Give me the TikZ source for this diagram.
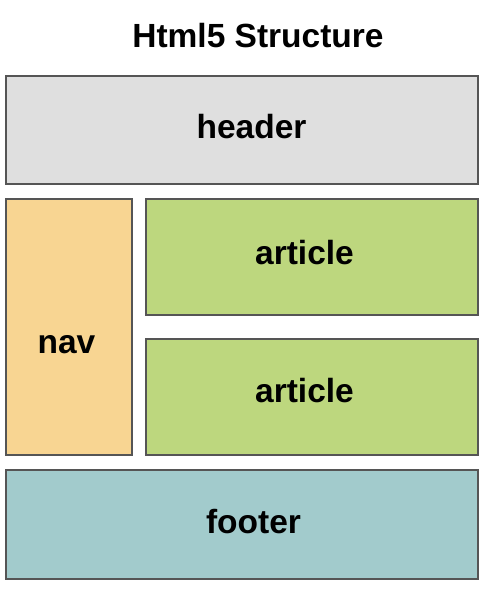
\documentclass[tikz,border=0pt]{standalone}
\usepackage{fontspec}
\setmainfont{Liberation Sans}
\definecolor{hdr}{HTML}{DFDFDF}
\definecolor{navc}{HTML}{F8D592}
\definecolor{artc}{HTML}{BDD77E}
\definecolor{ftc}{HTML}{A2CBCC}
\definecolor{edge}{HTML}{555555}
\begin{document}
\begin{tikzpicture}[x=1pt,y=-1pt,
  box/.style={draw=edge, line width=1.6pt, inner sep=0pt},
  lbl/.style={inner sep=0pt, anchor=base, font=\fontsize{33.5}{36}\selectfont\bfseries}]
\useasboundingbox (0,0) rectangle (490,600);
\node[box, fill=hdr, minimum width=472pt, minimum height=108pt] (header) at (242,130) {};
\node[box, fill=navc, minimum width=126pt, minimum height=256pt] (nav) at (69,327) {};
\node[box, fill=artc, minimum width=332pt, minimum height=116pt] (art1) at (312,257) {};
\node[box, fill=artc, minimum width=332pt, minimum height=116pt] (art2) at (312,397) {};
\node[box, fill=ftc, minimum width=472pt, minimum height=109pt] (footer) at (242,524.5) {};
\node[lbl] (title) at (258,47) {Html5 Structure};
\node[lbl] (tHeader) at (251.5,138) {header};
\node[lbl] (tNav) at (66.5,353) {nav};
\node[lbl] (tArt1) at (304.5,264) {article};
\node[lbl] (tArt2) at (304.5,402) {article};
\node[lbl] (tFooter) at (253.5,533) {footer};
\end{tikzpicture}
\end{document}
